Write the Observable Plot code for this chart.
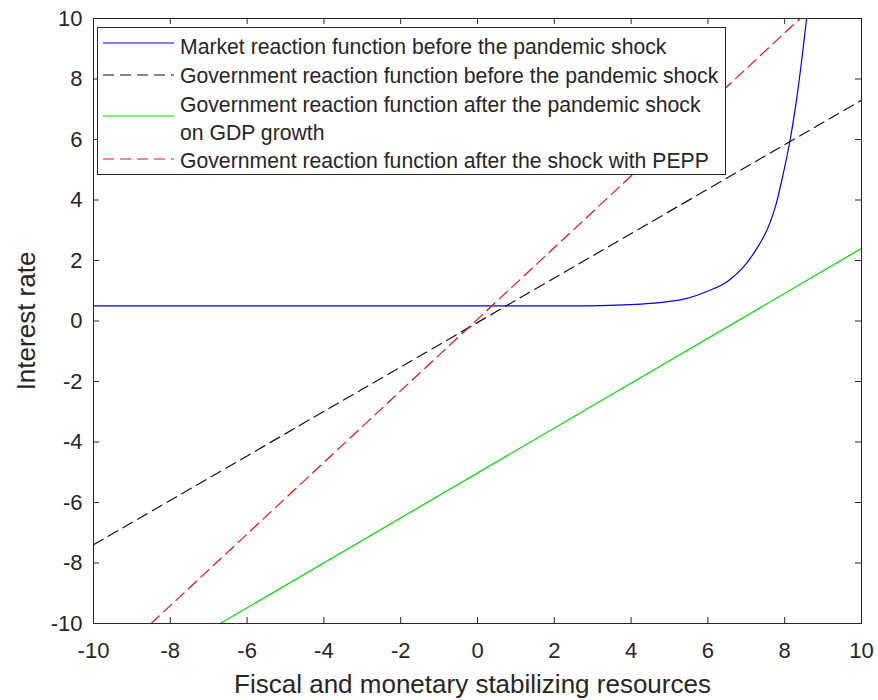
<!DOCTYPE html>
<html><head><meta charset="utf-8">
<script src="https://cdn.jsdelivr.net/npm/d3@7"></script>
<script src="https://cdn.jsdelivr.net/npm/@observablehq/plot@0.6"></script>
<style>
body{margin:0;background:#fff;font-family:"Liberation Sans",Arial,sans-serif;}
#wrap{position:relative;width:878px;height:700px;}
#legend{position:absolute;left:97px;top:27px;width:629px;height:148px;border:1px solid #262626;background:#fff;box-sizing:border-box;}
#legend .t{position:absolute;left:82px;font-size:21.2px;line-height:21px;color:#262626;white-space:nowrap;}
#legend svg{position:absolute;left:0;top:0;}
</style></head><body><div id="wrap"></div>
<script>
// ---- data ----
const xTicks = [-10, -8, -6, -4, -2, 0, 2, 4, 6, 8, 10];
const yTicks = [-10, -8, -6, -4, -2, 0, 2, 4, 6, 8, 10];

// Market reaction function before the pandemic shock (blue)
const marketX = [-10, -4, 0, 3.2, 4.5, 5.4, 6.1, 6.5, 6.9, 7.2, 7.5, 7.75, 7.95, 8.15, 8.35, 8.57];
const marketY = [0.5, 0.5, 0.5, 0.51, 0.58, 0.73, 1.04, 1.3, 1.75, 2.25, 2.9, 3.75, 4.8, 6.05, 7.7, 10.0];

// Government reaction function before the pandemic shock (black dashed)
const govBeforeX = [-10, 10];
const govBeforeY = [-7.4, 7.3];

// Government reaction function after the pandemic shock on GDP growth (green)
const govAfterX = [-6.7, 10];
const govAfterY = [-10, 2.4];

// Government reaction function after the shock with PEPP (red dashed)
const govPeppX = [-8.5, 8.4];
const govPeppY = [-10, 10];

const seriesNames = [
  "Market reaction function before the pandemic shock",
  "Government reaction function before the pandemic shock",
  "Government reaction function after the pandemic shock\non GDP growth",
  "Government reaction function after the shock with PEPP"
];
const seriesColors = ["#0000f0", "#111111", "#00dd00", "#ee1111"];
const seriesDash = [null, "11,6", null, "11,6"];
const xLabel = "Fiscal and monetary stabilizing resources";
const yLabel = "Interest rate";

// ---- build ----
const toRows = (xs, ys) => xs.map((x, i) => ({x, y: ys[i]}));
const series = [
  toRows(marketX, marketY),
  toRows(govBeforeX, govBeforeY),
  toRows(govAfterX, govAfterY),
  toRows(govPeppX, govPeppY)
];

const W = 878, H = 700, mL = 93, mR = 17, mT = 18, mB = 77;
const innerW = W - mL - mR, innerH = H - mT - mB;
const axisColor = "#262626";
const tickLen = 6;

const lineMarks = series.map((d, i) => Plot.line(d, {
  x: "x", y: "y", stroke: seriesColors[i], strokeWidth: 1.2,
  strokeDasharray: seriesDash[i], curve: i === 0 ? "catmull-rom" : "linear", clip: true
}));

const chart = Plot.plot({
  width: W, height: H,
  marginLeft: mL, marginRight: mR, marginTop: mT, marginBottom: mB,
  style: {fontFamily: "'Liberation Sans', Arial, sans-serif", color: axisColor, background: "white"},
  x: {domain: [-10, 10]},
  y: {domain: [-10, 10]},
  marks: [
    ...lineMarks,
    Plot.frame({stroke: axisColor, strokeWidth: 1}),
    Plot.tickX(xTicks, {x: d => d, insetTop: innerH - tickLen, stroke: axisColor}),
    Plot.tickX(xTicks, {x: d => d, insetBottom: innerH - tickLen, stroke: axisColor}),
    Plot.tickY(yTicks, {y: d => d, insetRight: innerW - tickLen, stroke: axisColor}),
    Plot.tickY(yTicks, {y: d => d, insetLeft: innerW - tickLen, stroke: axisColor}),
    Plot.axisX(xTicks, {tickSize: 0, tickPadding: 19, fontSize: 22, label: null, tickFormat: d => String(d)}),
    Plot.axisY(yTicks, {tickSize: 0, tickPadding: 11, fontSize: 22, label: null, tickFormat: d => String(d)}),
    Plot.text([xLabel], {frameAnchor: "bottom", lineAnchor: "middle", textAnchor: "middle", dy: 61, dx: -5, fontSize: 26, fill: axisColor}),
    Plot.text([yLabel], {frameAnchor: "left", lineAnchor: "middle", textAnchor: "middle", dx: -67, rotate: -90, fontSize: 26, fill: axisColor})
  ]
});
const wrap = document.getElementById("wrap");
wrap.appendChild(chart);

// ---- legend (inside the axes, top-left) ----
const legend = document.createElement("div");
legend.id = "legend";
const ns = "http://www.w3.org/2000/svg";
const svg = document.createElementNS(ns, "svg");
svg.setAttribute("width", 627); svg.setAttribute("height", 146);
legend.appendChild(svg);
const sampleY = [15, 47, 88, 131];
const textTops = [[8], [37], [66, 94], [122]];
seriesNames.forEach((name, i) => {
  const ln = document.createElementNS(ns, "line");
  ln.setAttribute("x1", 5); ln.setAttribute("x2", 76);
  ln.setAttribute("y1", sampleY[i]); ln.setAttribute("y2", sampleY[i]);
  ln.setAttribute("stroke", seriesColors[i]); ln.setAttribute("stroke-width", 1.2);
  if (seriesDash[i]) ln.setAttribute("stroke-dasharray", seriesDash[i]);
  svg.appendChild(ln);
  name.split("\n").forEach((part, j) => {
    const t = document.createElement("div");
    t.className = "t";
    t.style.top = textTops[i][j] + "px";
    t.textContent = part;
    legend.appendChild(t);
  });
});
wrap.appendChild(legend);
</script>
</body></html>
